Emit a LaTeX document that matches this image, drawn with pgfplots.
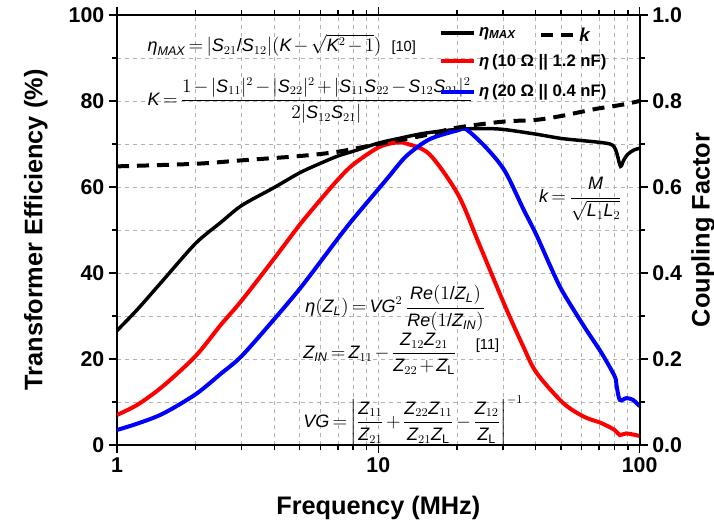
\documentclass[border=0pt]{standalone}
\usepackage{amsmath}
\usepackage{fontspec}
\setmainfont{Liberation Sans}
\DeclareSymbolFont{operators}{TU}{\rmdefault}{m}{n}
\usepackage{pgfplots}
\pgfplotsset{compat=1.18}

\newcommand{\eqf}{\fontsize{13.5}{15}\selectfont\medmuskip=2mu\thickmuskip=3mu}
\newcommand{\mi}[1]{\mathit{#1}}
\newcommand{\eet}{\text{\itshape η}}
\newcommand{\slh}{\mathord{\text{/}}}

\begin{document}
\begin{tikzpicture}
\begin{axis}[
    width=392pt, height=322.5pt, scale only axis,
    xmode=log, xmin=1, xmax=100, ymin=0, ymax=100,
    xtick={1,10,100}, xticklabels={1,10,100},
    minor xtick={2,3,4,5,6,7,8,9,20,30,40,50,60,70,80,90},
    ytick={0,20,40,60,80,100}, minor ytick={10,30,50,70,90},
    ytick pos=left,
    tick align=outside,
    grid=both,
    major grid style={gray!60, dashed, line width=0.4pt},
    minor grid style={gray!60, dashed, line width=0.4pt},
    axis line style={line width=1.6pt},
    major tick length=6pt, minor tick length=4pt,
    every tick/.style={black, line width=1.2pt},
    /pgf/number format/assume math mode=true,
    tick label style={font=\bfseries\fontsize{16}{18}\selectfont},
    label style={font=\bfseries\fontsize{19}{23}\selectfont},
    xlabel={Frequency (MHz)},
    ylabel={Transformer Efficiency (\%)},
    xlabel shift=11pt, ylabel shift=9pt,
    legend style={at={(0.608,0.984)}, anchor=north west,
        draw=none, fill=none, row sep=8pt,
        font=\bfseries\fontsize{12.5}{14}\selectfont},
    legend cell align=left,
    legend image code/.code={\draw[#1] (0pt,0pt) -- (25pt,0pt);},
]
\coordinate (O) at (rel axis cs:0,0);
% eta_MAX
\addplot[black, line width=2.6pt, smooth] coordinates {
(1,26.6) (1.2,31.6) (1.5,38.3) (2,46.9) (2.5,51.8) (3,55.7) (4,59.9)
(5,63.3) (6,65.5) (7,67.2) (8,68.3) (10,70.2) (12,71.3) (15,72.5)
(20,73.4) (25,73.6) (30,73.4) (40,72.3) (50,71.3) (60,70.8) (70,70.4)
(77,70.0) (80,69.3) (82,67.6) (84.5,64.8) (87,66.3) (90,67.6) (95,68.6) (100,69.0)};
\addlegendentry{\textit{η}\textsubscript{\textit{MAX}}}
% 10 ohm || 1.2 nF
\addplot[red, line width=3pt, smooth] coordinates {
(1,7.0) (1.2,9.4) (1.5,13.7) (2,20.7) (2.5,28.0) (3,33.6) (4,43.4)
(5,51.2) (6,57.0) (7,61.7) (8,65.2) (10,69.2) (11.6,70.3) (12.8,70.1)
(15.7,67.6) (20.2,58.2) (24.4,46.5) (30.5,32.4) (35.8,23.0) (40.3,16.8)
(50.9,9.8) (61.1,6.6) (71.3,5.1) (80.2,3.5) (83.9,2.3) (89,2.7) (100,2.1)};
\addlegendentry{\textit{η}\,(10 Ω || 1.2 nF)}
% 20 ohm || 0.4 nF
\addplot[blue, line width=3pt, smooth] coordinates {
(1,3.5) (1.2,5.0) (1.5,7.3) (2,11.8) (2.5,16.6) (3,20.7) (4,29.3)
(5,36.3) (6,42.6) (7,48.0) (8,52.5) (10,59.5) (11,62.5) (12.8,67.2)
(15.7,71.1) (20.2,73.2) (21.7,73.4) (25.9,69.1) (30.5,63.7) (35.8,55.0)
(40.3,48.8) (46.6,40.2) (50.9,35.5) (61.1,27.7) (71.3,21.5) (80.2,16.0)
(81.5,14.0) (83.9,10.5) (89,10.9) (94.3,10.5) (100,9.0)};
\addlegendentry{\textit{η}\,(20 Ω || 0.4 nF)}

\node[anchor=west, font=\eqf, inner sep=0pt] at (rel axis cs:0.058,0.930)
  {$\eet_{\mi{MAX}}=|\mi{S}_{21}\slh\mi{S}_{12}|(\mi{K}-\sqrt{\mi{K}^2-1})$\ \ {\fontsize{11}{13}\selectfont[10]}};
\node[anchor=west, font=\eqf, inner sep=0pt] at (rel axis cs:0.058,0.802)
  {$\mi{K}=\dfrac{1-|\mi{S}_{11}|^2-|\mi{S}_{22}|^2+|\mi{S}_{11}\mi{S}_{22}-\mi{S}_{12}\mi{S}_{21}|^2}{2|\mi{S}_{12}\mi{S}_{21}|}$};
\node[font=\eqf, inner sep=0pt] at (rel axis cs:0.887,0.572)
  {$\mi{k}=\dfrac{\mi{M}}{\sqrt{\mi{L}_1\mi{L}_2}}$};
\node[anchor=west, font=\eqf, inner sep=0pt] at (rel axis cs:0.36,0.318)
  {$\eet(\mi{Z}_{\mi{L}})=\mi{VG}^2\,\dfrac{\mi{Re}(1\slh\mi{Z}_{\mi{L}})}{\mi{Re}(1\slh\mi{Z}_{\mi{IN}})}$};
\node[anchor=west, font=\eqf, inner sep=0pt] at (rel axis cs:0.356,0.212)
  {$\mi{Z}_{\mi{IN}}=\mi{Z}_{11}-\dfrac{\mi{Z}_{12}\mi{Z}_{21}}{\mi{Z}_{22}+\mi{Z}_{\mathrm{L}}}$};
\node[font=\fontsize{11}{13}\selectfont, inner sep=0pt] at (rel axis cs:0.709,0.232) {[11]};
\node[anchor=west, font=\eqf, inner sep=0pt] at (rel axis cs:0.356,0.057)
  {$\mi{VG}=\biggl|\dfrac{\mi{Z}_{11}}{\mi{Z}_{21}}+\dfrac{\mi{Z}_{22}\mi{Z}_{11}}{\mi{Z}_{21}\mi{Z}_{\mathrm{L}}}-\dfrac{\mi{Z}_{12}}{\mi{Z}_{\mathrm{L}}}\biggr|^{-1}$};
\end{axis}

\begin{axis}[
    width=392pt, height=322.5pt, scale only axis,
    xmode=log, xmin=1, xmax=100, ymin=0, ymax=1,
    axis x line=none, axis y line*=right,
    ytick={0,0.2,0.4,0.6,0.8,1}, minor ytick={0.1,0.3,0.5,0.7,0.9},
    tick align=outside,
    axis line style={line width=1.6pt},
    major tick length=6pt, minor tick length=4pt,
    every tick/.style={black, line width=1.2pt},
    /pgf/number format/assume math mode=true,
    yticklabel style={/pgf/number format/.cd, fixed, fixed zerofill, precision=1},
    tick label style={font=\bfseries\fontsize{16}{18}\selectfont},
    label style={font=\bfseries\fontsize{19}{23}\selectfont},
    ylabel={Coupling Factor},
    legend style={at={(0.80,0.984)}, anchor=north west,
        draw=none, fill=none,
        font=\bfseries\fontsize{14}{16}\selectfont},
    legend image code/.code={\draw[#1] (0pt,0pt) -- (25pt,0pt);},
]
\addplot[black, line width=3pt, dash pattern=on 9pt off 6pt, smooth] coordinates {
(1,0.648) (2,0.654) (3,0.662) (5,0.672) (7,0.682) (10,0.700) (15,0.720)
(20,0.738) (30,0.752) (40,0.756) (50,0.765) (60,0.775) (70,0.783)
(85,0.791) (100,0.800)};
\addlegendentry{\textit{k}}
\end{axis}
\pgfresetboundingbox
\path (O) ++(-87.75pt,-60.75pt) rectangle ++(535.5pt,394.5pt);
\end{tikzpicture}
\end{document}
